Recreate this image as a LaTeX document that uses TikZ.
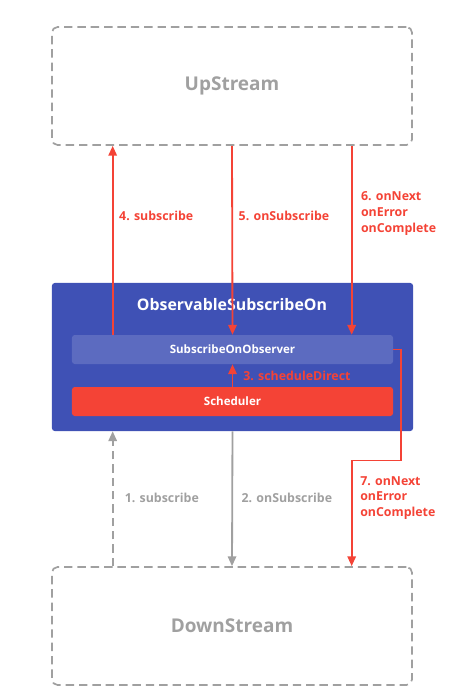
\documentclass[tikz,border=0pt]{standalone}
\usepackage{fontspec}
\setmainfont{Open Sans}
\usetikzlibrary{arrows.meta, positioning, calc}
\definecolor{lgray}{HTML}{A0A0A0}
\definecolor{flowred}{HTML}{F44336}
\definecolor{obsblue}{HTML}{3F51B5}
\definecolor{obslight}{HTML}{5C6BC0}
\tikzset{
  stream/.style={rectangle, draw=lgray, line width=1.2pt, dash pattern=on 6pt off 3.5pt,
                 rounded corners=4pt, minimum width=9cm, minimum height=2.95cm,
                 text=lgray, font=\fontsize{13.5}{15}\selectfont\bfseries},
  outer/.style={rectangle, fill=obsblue, rounded corners=2pt,
                minimum width=9.025cm, minimum height=3.7cm},
  inner/.style={rectangle, rounded corners=2pt, text=white,
                minimum width=8.025cm, minimum height=0.725cm,
                font=\fontsize{8.2}{10}\selectfont\bfseries},
  redarr/.style={-{Triangle[length=7pt, width=6pt]}, flowred, line width=1.3pt},
  grayarr/.style={-{Triangle[length=7pt, width=6pt]}, lgray, line width=1.3pt},
  lbl/.style={anchor=west, inner sep=0pt, align=left,
              font=\fontsize{8.8}{11.3}\selectfont\bfseries},
}
\begin{document}
\begin{tikzpicture}[x=0.025cm, y=-0.025cm]
  \useasboundingbox (0,0) rectangle (469,699);

  % upstream / downstream
  \node[stream] (upstream) at (232,86) {UpStream};
  \node[stream] (downstream) at (232,626) {DownStream};

  % operator
  \node[outer] (observable) at (232.5,357) {};
  \node[text=white, font=\fontsize{11.3}{13}\selectfont\bfseries] (obstitle) at (232,305) {ObservableSubscribeOn};
  \node[inner, fill=obslight] (sobserver) at (232.5,349.5) {SubscribeOnObserver};
  \node[inner, fill=flowred] (scheduler) at (232.5,401.5) {Scheduler};

  \coordinate (xa) at ($(sobserver.north west)+(41,0)$);
  \coordinate (xc) at ($(sobserver.north west)+(280,0)$);

  % upper flows
  \draw[redarr] (xa) -- (upstream.south -| xa)
    node[lbl, text=flowred, pos=0.63, xshift=4pt] {4. subscribe};
  \draw[redarr] (upstream.south) -- (sobserver.north)
    node[lbl, text=flowred, pos=0.37, xshift=4pt] {5. onSubscribe};
  \draw[redarr] (upstream.south -| xc) -- (xc)
    node[lbl, text=flowred, pos=0.36, xshift=6pt] {6. onNext\\onError\\onComplete};
  \draw[redarr] (scheduler.north) -- (sobserver.south);
  \node[lbl, text=flowred] (sched) at (243,376) {3. scheduleDirect};

  % lower flows
  \draw[grayarr, dash pattern=on 6pt off 3.5pt] (downstream.north -| xa) -- (observable.south -| xa)
    node[lbl, text=lgray, pos=0.51, xshift=8pt] {1. subscribe};
  \draw[grayarr] (observable.south) -- (downstream.north)
    node[lbl, text=lgray, pos=0.49, xshift=6pt] {2. onSubscribe};
  \draw[redarr] (sobserver.east) -- ++(8,0) -- ++(0,111) -| (downstream.north -| xc);
  \node[lbl, text=flowred] (next7) at (360,498) {7. onNext\\onError\\onComplete};
\end{tikzpicture}
\end{document}
